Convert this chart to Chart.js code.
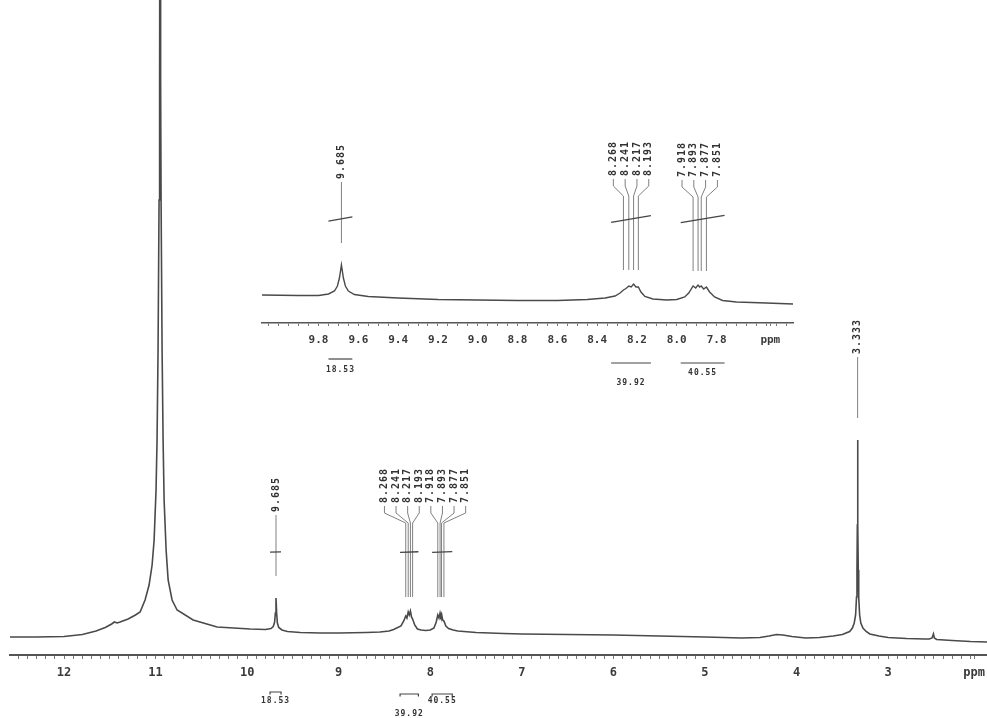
<!DOCTYPE html>
<html>
<head>
<meta charset="utf-8">
<script src="https://cdn.jsdelivr.net/npm/chart.js@4.4.1/dist/chart.umd.min.js"></script>
<style>
  body { margin: 0; background: #fff; }
  #wrap { position: relative; width: 987px; height: 718px; }
  canvas { position: absolute; left: 0; top: 0; }
</style>
</head>
<body>
<div id="wrap">
  <canvas id="main" width="987" height="718"></canvas>
  <canvas id="inset" width="987" height="718"></canvas>
</div>
<script>
// full spectrum, chemical shift (ppm) and intensity (a.u.)
const mainPpm = [
  12.59, 12.30, 12.00, 11.80, 11.65, 11.55, 11.48, 11.45, 11.42, 11.388, 11.30, 11.22, 11.169,
  11.115, 11.071, 11.038, 11.016, 10.995, 10.984, 10.973, 10.962, 10.956, 10.951,
  10.945, 10.940, 10.929, 10.918, 10.907, 10.885, 10.863, 10.820, 10.765, 10.590, 10.328,
  9.967, 9.80, 9.74, 9.715, 9.70, 9.692, 9.685, 9.678, 9.670, 9.655, 9.62, 9.56, 9.42,
  9.20, 9.00, 8.70, 8.55, 8.45, 8.40, 8.32, 8.29, 8.268, 8.255, 8.241, 8.229, 8.217, 8.205,
  8.193, 8.17, 8.14, 8.10, 8.05, 8.00, 7.96, 7.935, 7.918, 7.905, 7.893, 7.885, 7.877,
  7.865, 7.851, 7.83, 7.80, 7.75, 7.70, 7.50, 7.20, 7.00, 6.50, 6.00, 5.50, 5.00, 4.60,
  4.40, 4.30, 4.22, 4.15, 4.05, 3.90, 3.75, 3.60, 3.50, 3.42, 3.39, 3.37, 3.355, 3.345,
  3.340, 3.336, 3.333, 3.330, 3.326, 3.321, 3.311, 3.298, 3.275, 3.24, 3.20, 3.10, 3.00,
  2.80, 2.60, 2.55, 2.52, 2.505, 2.495, 2.47, 2.30, 2.10, 1.92
];
const mainIntensity = [
  18, 18, 18.5, 20.5, 24, 27.5, 31, 33, 32, 33, 36, 40, 43,
  55, 70, 90, 115, 165, 215, 305, 455, 575, 955,
  575, 455, 305, 215, 155, 105, 75, 55, 45, 35, 28,
  26, 25.5, 26.5, 28.5, 33, 42, 57, 42, 32, 27.5, 25, 23.5, 22.5,
  22, 22, 22.5, 23, 24, 25.5, 29, 34, 39, 37, 43, 40, 44, 38,
  36, 30, 26, 25, 24.5, 25, 27, 33, 40, 37, 42, 39, 41,
  35, 34, 29, 26.5, 25, 24, 22.5, 21.5, 21, 20.5, 20, 19, 18, 17,
  17.5, 19, 20.5, 20, 18.5, 17, 17.5, 19, 20.5, 23.5, 27, 32, 40, 58,
  85, 130, 215, 130, 85, 58, 40, 32, 27, 23.5, 21, 19, 17.5,
  16.5, 16, 16, 17, 21, 17, 15.5, 14.5, 13.5, 13
];

// expanded region 10.1 - 7.4 ppm
const insetPpm = [
  10.084, 9.90, 9.80, 9.75, 9.72, 9.705, 9.695, 9.685, 9.675, 9.665, 9.65, 9.62, 9.55,
  9.40, 9.20, 9.00, 8.80, 8.60, 8.45, 8.36, 8.31, 8.285, 8.268, 8.255, 8.241, 8.229,
  8.217, 8.205, 8.193, 8.18, 8.16, 8.12, 8.05, 8.00, 7.96, 7.94, 7.918, 7.905, 7.893,
  7.885, 7.877, 7.865, 7.851, 7.835, 7.81, 7.77, 7.70, 7.55, 7.416
];
const insetIntensity = [
  28, 27.5, 27.5, 29, 32, 37, 45, 58, 45, 37, 32, 28.5, 26.5,
  25, 23.5, 23, 22.5, 22.5, 23.5, 25, 27, 30, 33, 34.5, 37, 36,
  39, 36, 36, 31, 26.5, 24, 23, 23.5, 26, 30, 37, 35, 38,
  36, 37, 34, 36, 31, 26, 22.5, 21, 20, 19
];

const mainClusters = [[9.685], [8.268, 8.241, 8.217, 8.193, 7.918, 7.893, 7.877, 7.851], [3.333]];
const insetClusters = [[9.685], [8.268, 8.241, 8.217, 8.193], [7.918, 7.893, 7.877, 7.851]];

const integralValues = [18.53, 39.92, 40.55];
const integralFrom = [9.75, 8.33, 7.98];
const integralTo = [9.63, 8.13, 7.76];

const mainTickValues = [12, 11, 10, 9, 8, 7, 6, 5, 4, 3, 2.06];
const mainTickLabels = ['12', '11', '10', '9', '8', '7', '6', '5', '4', '3', 'ppm'];
const insetTickValues = [9.8, 9.6, 9.4, 9.2, 9.0, 8.8, 8.6, 8.4, 8.2, 8.0, 7.8, 7.53];
const insetTickLabels = ['9.8', '9.6', '9.4', '9.2', '9.0', '8.8', '8.6', '8.4', '8.2', '8.0', '7.8', 'ppm'];

const MONO = '"DejaVu Sans Mono", "Liberation Mono", monospace';

function toPoints(xs, ys) {
  return xs.map((x, i) => ({ x: x, y: ys[i] }));
}

function intensityAt(ppm, inten, p) {
  let best = 0;
  for (let i = 1; i < ppm.length; i++) {
    if (Math.abs(ppm[i] - p) < Math.abs(ppm[best] - p)) best = i;
  }
  return inten[best];
}

// minor ticks every step, plus the labelled ones
function makeTicks(from, to, step, extra) {
  const vals = [];
  const n = Math.round((to - from) / step);
  for (let i = 0; i <= n; i++) vals.push(+(from + i * step).toFixed(3));
  extra.forEach(v => { if (!vals.some(t => Math.abs(t - v) < 1e-6)) vals.push(v); });
  vals.sort((a, b) => a - b);
  return vals.map(v => ({ value: v }));
}

function labelFor(value, vals, labels) {
  const i = vals.findIndex(v => Math.abs(v - value) < 1e-6);
  return i < 0 ? '' : labels[i];
}

// peak labels, leader lines, integral steps and integral values
function drawMarks(chart, o) {
  const ctx = chart.ctx;
  const xs = chart.scales.x, ys = chart.scales.y;
  ctx.save();
  ctx.font = 'bold 10px ' + MONO;
  if ('letterSpacing' in ctx) ctx.letterSpacing = '1px';
  ctx.fillStyle = '#333';
  ctx.strokeStyle = '#808080';
  ctx.lineWidth = 1;

  o.clusters.forEach(cl => {
    const px = cl.map(p => xs.getPixelForValue(p));
    const tops = cl.map(p => ys.getPixelForValue(intensityAt(o.ppm, o.inten, p)));
    const top = Math.min(...tops);
    const single = cl.length === 1;
    const bottom = top - (single ? 86 : 108);
    const mid = px.reduce((a, b) => a + b, 0) / px.length;
    cl.forEach((p, i) => {
      const lx = single ? px[i] : mid + (i - (cl.length - 1) / 2) * o.spacing;
      ctx.save();
      ctx.translate(lx, bottom);
      ctx.rotate(-Math.PI / 2);
      ctx.textAlign = 'left';
      ctx.textBaseline = 'middle';
      ctx.fillText(p.toFixed(3), 0, 0);
      ctx.restore();
      ctx.beginPath();
      if (single) {
        ctx.moveTo(px[i], bottom + 3);
        ctx.lineTo(px[i], top - 22);
      } else {
        ctx.moveTo(lx, bottom + 3);
        ctx.lineTo(lx, bottom + 10);
        ctx.lineTo(px[i], bottom + 20);
        ctx.lineTo(px[i], top - 14);
      }
      ctx.stroke();
    });
  });

  ctx.font = 'bold 8px ' + MONO;
  if ('letterSpacing' in ctx) ctx.letterSpacing = '1px';
  ctx.textAlign = 'center';
  ctx.textBaseline = 'middle';
  integralValues.forEach((v, i) => {
    const x1 = xs.getPixelForValue(integralFrom[i]);
    const x2 = xs.getPixelForValue(integralTo[i]);
    const rise = o.slope * (x2 - x1);
    ctx.strokeStyle = '#444';
    ctx.lineWidth = 1.3;
    ctx.beginPath();
    ctx.moveTo(x1, o.integralY + rise / 2);
    ctx.lineTo(x2, o.integralY - rise / 2);
    ctx.stroke();

    const by = o.barY[i];
    ctx.lineWidth = 1.2;
    ctx.beginPath();
    if (o.brackets) {
      ctx.moveTo(x1, by + 2.5);
      ctx.lineTo(x1, by);
      ctx.lineTo(x2, by);
      ctx.lineTo(x2, by + 2.5);
    } else {
      ctx.moveTo(x1, by);
      ctx.lineTo(x2, by);
    }
    ctx.stroke();
    ctx.fillText(v.toFixed(2), (x1 + x2) / 2, o.textY[i]);
  });
  ctx.restore();
}

function axisOptions(o) {
  return {
    type: 'linear',
    reverse: true,
    min: o.min,
    max: o.max,
    afterFit: scale => { scale.height = o.height; },
    afterBuildTicks: scale => { scale.ticks = o.ticks; },
    border: { display: true, color: '#555', width: o.borderWidth },
    grid: { drawOnChartArea: false, drawTicks: true, tickLength: o.tickLength, tickColor: '#777', tickWidth: 1 },
    ticks: {
      autoSkip: false,
      maxRotation: 0,
      padding: o.padding,
      color: '#3a3a3a',
      font: { family: MONO, size: o.fontSize, weight: 'bold' },
      callback: value => labelFor(value, o.vals, o.labels)
    }
  };
}

new Chart(document.getElementById('main'), {
  type: 'line',
  data: {
    datasets: [{
      data: toPoints(mainPpm, mainIntensity),
      borderColor: '#4a4a4a',
      borderWidth: 1.6,
      pointRadius: 0,
      tension: 0,
      fill: false
    }]
  },
  options: {
    responsive: false,
    animation: false,
    devicePixelRatio: 1,
    events: [],
    layout: { padding: { left: 10, right: 0, top: 0, bottom: 0 } },
    plugins: { legend: { display: false }, tooltip: { enabled: false } },
    scales: {
      x: axisOptions({
        min: 1.92, max: 12.59, height: 63, borderWidth: 2, tickLength: 4, padding: 7, fontSize: 12,
        ticks: makeTicks(2.1, 12.5, 0.1, mainTickValues), vals: mainTickValues, labels: mainTickLabels
      }),
      y: { display: false, min: 0, max: 655 }
    }
  },
  plugins: [{
    id: 'mainMarks',
    afterDatasetsDraw: chart => drawMarks(chart, {
      ppm: mainPpm, inten: mainIntensity, clusters: mainClusters, spacing: 11.6,
      integralY: 552, slope: 0.03, brackets: true,
      barY: [692, 694, 694], textY: [701, 714, 701]
    })
  }]
});

new Chart(document.getElementById('inset'), {
  type: 'line',
  data: {
    datasets: [{
      data: toPoints(insetPpm, insetIntensity),
      borderColor: '#4a4a4a',
      borderWidth: 1.4,
      pointRadius: 0,
      tension: 0,
      fill: false
    }]
  },
  options: {
    responsive: false,
    animation: false,
    devicePixelRatio: 1,
    events: [],
    layout: { padding: { left: 262, right: 194, top: 23, bottom: 365 } },
    plugins: { legend: { display: false }, tooltip: { enabled: false } },
    scales: {
      x: axisOptions({
        min: 7.416, max: 10.084, height: 30, borderWidth: 1.6, tickLength: 3, padding: 8, fontSize: 11,
        ticks: makeTicks(7.45, 10.05, 0.05, insetTickValues), vals: insetTickValues, labels: insetTickLabels
      }),
      y: { display: false, min: 0, max: 300 }
    }
  },
  plugins: [{
    id: 'insetMarks',
    afterDatasetsDraw: chart => drawMarks(chart, {
      ppm: insetPpm, inten: insetIntensity, clusters: insetClusters, spacing: 11.8,
      integralY: 219, slope: 0.17, brackets: false,
      barY: [359, 363, 363], textY: [370, 383, 373]
    })
  }]
});
</script>
</body>
</html>
